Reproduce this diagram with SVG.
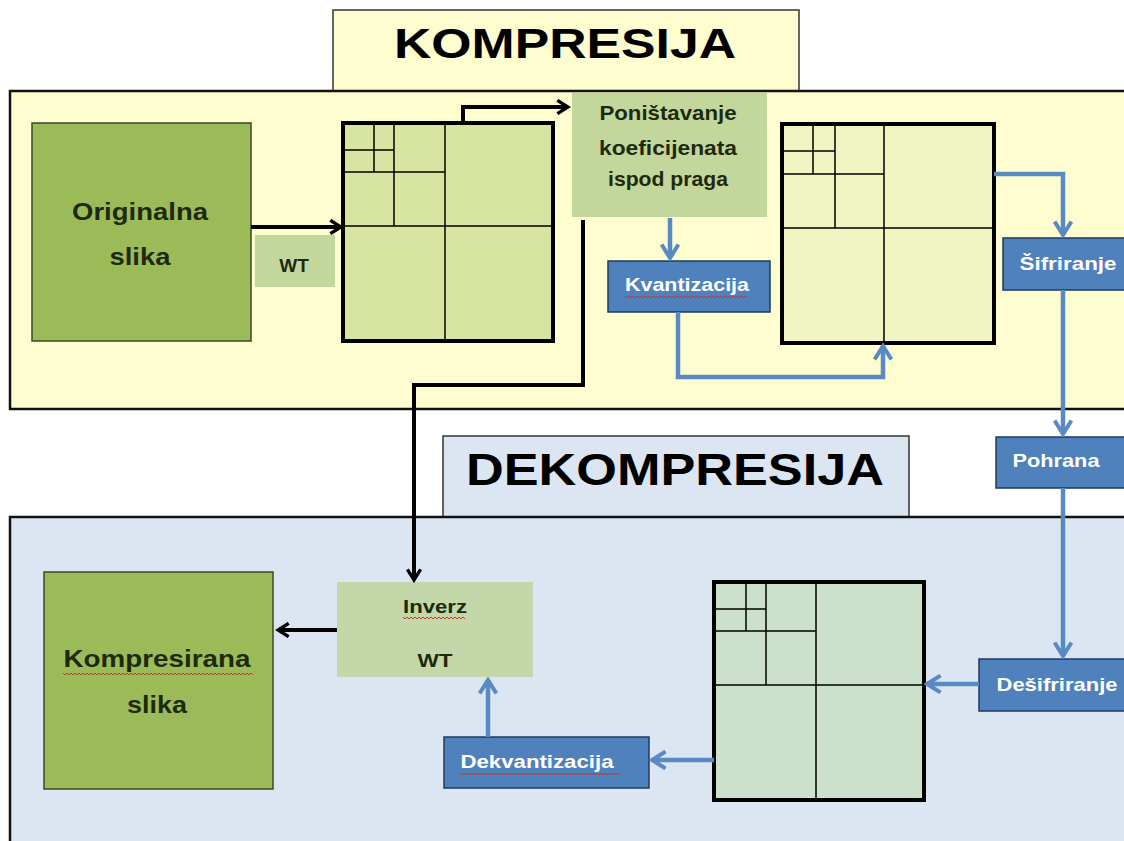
<svg xmlns="http://www.w3.org/2000/svg" width="1124" height="841" viewBox="0 0 1124 841">
<style>
.title{font-family:"Liberation Sans",Arial,sans-serif;font-weight:bold;fill:#000}
.lbl{font-family:"Liberation Sans",Arial,sans-serif;font-weight:bold;fill:#1e2a0e;text-anchor:middle}
.wl{font-family:"Liberation Sans",Arial,sans-serif;font-weight:bold;fill:#fff;font-size:19px;text-anchor:middle}
.bbox{fill:#4f81bd;stroke:#1f3a5f;stroke-width:1.5}
.grid{stroke:#000;stroke-width:4}
.gl{stroke:#000;stroke-width:1.5;fill:none}
.blk{stroke:#000;stroke-width:4;fill:none}
.blu{stroke:#5a8ac4;stroke-width:4.5;fill:none}
.sq{stroke:#c0392b;stroke-width:1;fill:none}
</style>
<defs>
<marker id="ab" viewBox="0 0 12 12" refX="10" refY="6" markerWidth="4" markerHeight="4" orient="auto" markerUnits="strokeWidth">
<path d="M2,1 L10,6 L2,11" fill="none" stroke="#000" stroke-width="2.5"/>
</marker>
<marker id="au" viewBox="0 0 12 12" refX="10" refY="6" markerWidth="4.5" markerHeight="4.5" orient="auto" markerUnits="strokeWidth">
<path d="M2,1 L10,6 L2,11" fill="none" stroke="#5a8ac4" stroke-width="2.4"/>
</marker>
</defs>
<rect width="1124" height="841" fill="#fff"/>

<g id="kompresija-panel">
<rect x="333" y="10" width="466" height="81" fill="#fdfdd0" stroke="#333" stroke-width="1.5"/>
<rect x="10" y="91" width="1124" height="318" fill="#fdfdd0" stroke="#111" stroke-width="2.5"/>
<text class="title" x="565" y="58" font-size="42" text-anchor="middle" textLength="342" lengthAdjust="spacingAndGlyphs">KOMPRESIJA</text>
</g>

<g id="dekompresija-panel">
<rect x="443" y="436" width="466" height="81" fill="#dce6f2" stroke="#333" stroke-width="1.5"/>
<rect x="10" y="517" width="1124" height="340" fill="#dce6f2" stroke="#111" stroke-width="2.5"/>
<text class="title" x="675" y="485" font-size="44" text-anchor="middle" textLength="418" lengthAdjust="spacingAndGlyphs">DEKOMPRESIJA</text>
</g>

<g id="originalna">
<rect x="32" y="123" width="219" height="218" fill="#9bbb59" stroke="#3a4a20" stroke-width="1.5"/>
<text class="lbl" x="140" y="220" font-size="24" textLength="136" lengthAdjust="spacingAndGlyphs">Originalna</text>
<text class="lbl" x="140" y="265" font-size="24" textLength="61" lengthAdjust="spacingAndGlyphs">slika</text>
</g>

<g id="wt">
<rect x="255" y="235" width="80" height="52" fill="#c3d69b"/>
<text class="lbl" x="294" y="272" font-size="19">WT</text>
</g>

<g id="grid1">
<rect x="343" y="123" width="210" height="218" fill="#d8e4a2" class="grid"/>
<path class="gl" d="M445,123V341 M343,226H553 M394,123V226 M343,172H445 M374,123V172 M343,150H394"/>
</g>

<g id="ponistavanje">
<rect x="572" y="93" width="195" height="124" fill="#c3d69b"/>
<text class="lbl" x="668" y="120" font-size="21" textLength="137" lengthAdjust="spacingAndGlyphs">Poništavanje</text>
<text class="lbl" x="668" y="155" font-size="21" textLength="138" lengthAdjust="spacingAndGlyphs">koeficijenata</text>
<text class="lbl" x="668" y="186" font-size="21" textLength="120" lengthAdjust="spacingAndGlyphs">ispod praga</text>
</g>

<g id="kvantizacija">
<rect class="bbox" x="608" y="261" width="162" height="51"/>
<text class="wl" x="687" y="291" textLength="124" lengthAdjust="spacingAndGlyphs">Kvantizacija</text>
<path class="sq" d="M625,296 l2,2 2,-2 2,2 2,-2 2,2 2,-2 2,2 2,-2 2,2 2,-2 2,2 2,-2 2,2 2,-2 2,2 2,-2 2,2 2,-2 2,2 2,-2 2,2 2,-2 2,2 2,-2 2,2 2,-2 2,2 2,-2 2,2 2,-2 2,2 2,-2 2,2 2,-2 2,2 2,-2 2,2 2,-2 2,2 2,-2 2,2 2,-2 2,2 2,-2 2,2 2,-2 2,2 2,-2 2,2 2,-2 2,2 2,-2 2,2 2,-2 2,2 2,-2 2,2 2,-2 2,2 2,-2 2,2"/>
</g>

<g id="grid2">
<rect x="782" y="124" width="212" height="219" fill="#f1f5c4" class="grid"/>
<path class="gl" d="M884,124V343 M782,228H994 M835,124V228 M782,174H884 M813,124V174 M782,151H835"/>
</g>

<g id="sifriranje">
<rect class="bbox" x="1003" y="238" width="130" height="52"/>
<text class="wl" x="1068" y="270" textLength="97" lengthAdjust="spacingAndGlyphs">Šifriranje</text>
</g>

<g id="pohrana">
<rect class="bbox" x="996" y="437" width="130" height="51"/>
<text class="wl" x="1056" y="467" textLength="87" lengthAdjust="spacingAndGlyphs">Pohrana</text>
</g>

<g id="desifriranje">
<rect class="bbox" x="979" y="659" width="152" height="52"/>
<text class="wl" x="1057" y="691" textLength="121" lengthAdjust="spacingAndGlyphs">Dešifriranje</text>
</g>

<g id="grid3">
<rect x="714" y="582" width="210" height="218" fill="#cbe1cb" class="grid"/>
<path class="gl" d="M816,582V800 M714,685H924 M766,582V685 M714,631H816 M746,582V631 M714,609H766"/>
</g>

<g id="dekvantizacija">
<rect class="bbox" x="444" y="737" width="205" height="51"/>
<text class="wl" x="537" y="768" textLength="153" lengthAdjust="spacingAndGlyphs">Dekvantizacija</text>
<path class="sq" d="M461,773 l2,2 2,-2 2,2 2,-2 2,2 2,-2 2,2 2,-2 2,2 2,-2 2,2 2,-2 2,2 2,-2 2,2 2,-2 2,2 2,-2 2,2 2,-2 2,2 2,-2 2,2 2,-2 2,2 2,-2 2,2 2,-2 2,2 2,-2 2,2 2,-2 2,2 2,-2 2,2 2,-2 2,2 2,-2 2,2 2,-2 2,2 2,-2 2,2 2,-2 2,2 2,-2 2,2 2,-2 2,2 2,-2 2,2 2,-2 2,2 2,-2 2,2 2,-2 2,2 2,-2 2,2 2,-2 2,2 2,-2 2,2 2,-2 2,2 2,-2 2,2 2,-2 2,2 2,-2 2,2 2,-2 2,2 2,-2 2,2 2,-2 2,2 2,-2 2,2"/>
</g>

<g id="inverz">
<rect x="337" y="582" width="196" height="95" fill="#c4d7a8"/>
<text class="lbl" x="435" y="613" font-size="18" textLength="64" lengthAdjust="spacingAndGlyphs">Inverz</text>
<path class="sq" d="M403,617 l2,2 2,-2 2,2 2,-2 2,2 2,-2 2,2 2,-2 2,2 2,-2 2,2 2,-2 2,2 2,-2 2,2 2,-2 2,2 2,-2 2,2 2,-2 2,2 2,-2 2,2 2,-2 2,2 2,-2 2,2 2,-2 2,2 2,-2 2,2"/>
<text class="lbl" x="435" y="667" font-size="18" textLength="35" lengthAdjust="spacingAndGlyphs">WT</text>
</g>

<g id="kompresirana">
<rect x="44" y="572" width="229" height="217" fill="#9bbb59" stroke="#3a4a20" stroke-width="1.5"/>
<text class="lbl" x="157" y="667" font-size="24" textLength="187" lengthAdjust="spacingAndGlyphs">Kompresirana</text>
<path class="sq" stroke="#d9772b" d="M63,673 l2,2 2,-2 2,2 2,-2 2,2 2,-2 2,2 2,-2 2,2 2,-2 2,2 2,-2 2,2 2,-2 2,2 2,-2 2,2 2,-2 2,2 2,-2 2,2 2,-2 2,2 2,-2 2,2 2,-2 2,2 2,-2 2,2 2,-2 2,2 2,-2 2,2 2,-2 2,2 2,-2 2,2 2,-2 2,2 2,-2 2,2 2,-2 2,2 2,-2 2,2 2,-2 2,2 2,-2 2,2 2,-2 2,2 2,-2 2,2 2,-2 2,2 2,-2 2,2 2,-2 2,2 2,-2 2,2 2,-2 2,2 2,-2 2,2 2,-2 2,2 2,-2 2,2 2,-2 2,2 2,-2 2,2 2,-2 2,2 2,-2 2,2 2,-2 2,2 2,-2 2,2 2,-2 2,2 2,-2 2,2 2,-2 2,2 2,-2 2,2 2,-2 2,2 2,-2 2,2 2,-2 2,2"/>
<text class="lbl" x="157" y="713" font-size="24" textLength="60" lengthAdjust="spacingAndGlyphs">slika</text>
</g>

<g id="connectors">
<path class="blk" d="M251,227H341" marker-end="url(#ab)"/>
<path class="blk" d="M463,123V107H568" marker-end="url(#ab)"/>
<path class="blk" d="M583,220V385H414V580" marker-end="url(#ab)"/>
<path class="blk" d="M337,630H278" marker-end="url(#ab)"/>
<path class="blu" d="M670,218V258" marker-end="url(#au)"/>
<path class="blu" d="M678,312V377H883V346" marker-end="url(#au)"/>
<path class="blu" d="M994,174H1063V235" marker-end="url(#au)"/>
<path class="blu" d="M1063,290V434" marker-end="url(#au)"/>
<path class="blu" d="M1063,488V656" marker-end="url(#au)"/>
<path class="blu" d="M979,684H927" marker-end="url(#au)"/>
<path class="blu" d="M714,760H652" marker-end="url(#au)"/>
<path class="blu" d="M488,737V680" marker-end="url(#au)"/>
</g>
</svg>
